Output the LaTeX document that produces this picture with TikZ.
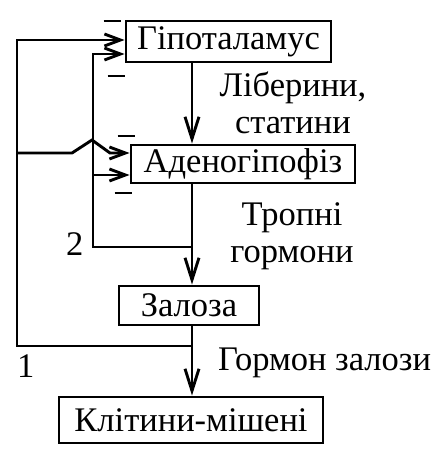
\documentclass[tikz,border=0pt]{standalone}
\usepackage{fontspec}
\setmainfont{Liberation Serif}
\usetikzlibrary{arrows.meta}

\newcommand{\inhib}{\rule{17pt}{2.8pt}}

\begin{document}
\begin{tikzpicture}[
    x=1pt, y=-1pt,
    every node/.style={font=\fontsize{34.5}{36.5}\selectfont},
    box/.style={draw, line width=2.9pt, inner sep=0pt},
    lbl/.style={inner sep=0pt, align=center},
    sign/.style={inner sep=0pt},
    flow/.style={-{Straight Barb[length=22pt, width=14pt]}, line width=2.9pt},
    feedback/.style={-{Straight Barb[length=16pt, width=12pt]}, line width=2.9pt}
]
\useasboundingbox (0,0) rectangle (445,456);
\node[box, minimum width=205pt, minimum height=41pt] (hypo) at (228.5,41.5) {Гіпоталамус};
\node[box, minimum width=224pt, minimum height=38pt] (adeno) at (243,164) {Аденогіпофіз};
\node[box, minimum width=140pt, minimum height=39pt] (gland) at (189,305.5) {Залоза};
\node[box, minimum width=264pt, minimum height=46pt] (target) at (191,420) {Клітини-мішені};
\node[lbl, anchor=base] (liber) at (293,133) {Ліберини,\\статини};
\node[lbl, anchor=base] (tropic) at (292,262) {Тропні\\гормони};
\node[lbl, anchor=base west] (ghorm) at (218,370) {Гормон залози};
\node[lbl, anchor=base west] (two) at (66,255) {2};
\node[lbl, anchor=base west] (one) at (17,377) {1};
\node[sign] (m1) at (112,21) {\inhib};
\node[sign] (m2) at (116,76) {\inhib};
\node[sign] (m3) at (126,136) {\inhib};
\node[sign] (m4) at (123,193) {\inhib};
\coordinate (trunk) at (192,0);
\coordinate (j2) at (192,247);
\coordinate (j1) at (192,346);
\coordinate (k2) at (93,247);
\coordinate (k1) at (17,346);
% main chain
\draw[flow] (trunk |- hypo.south) -- (trunk |- adeno.north);
\draw[flow] (trunk |- adeno.south) -- (trunk |- gland.north);
\draw[flow] (trunk |- gland.south) -- (trunk |- target.north);
% loop 2
\draw[feedback] (j2) -- (k2) |- ([yshift=-12.5pt]hypo.west);
\draw[feedback] (k2 |- adeno.west) ++(0,11) -- ([yshift=-11pt]adeno.west);
% loop 1
\draw[feedback] (j1) -- (k1) |- ([yshift=1.5pt]hypo.west);
\draw[feedback] (k1 |- adeno.west) ++(0,-11) -- ++(55,0) -- ++(20,-13) -- ++(18,13) -- ([yshift=11pt]adeno.west);
\end{tikzpicture}
\end{document}
